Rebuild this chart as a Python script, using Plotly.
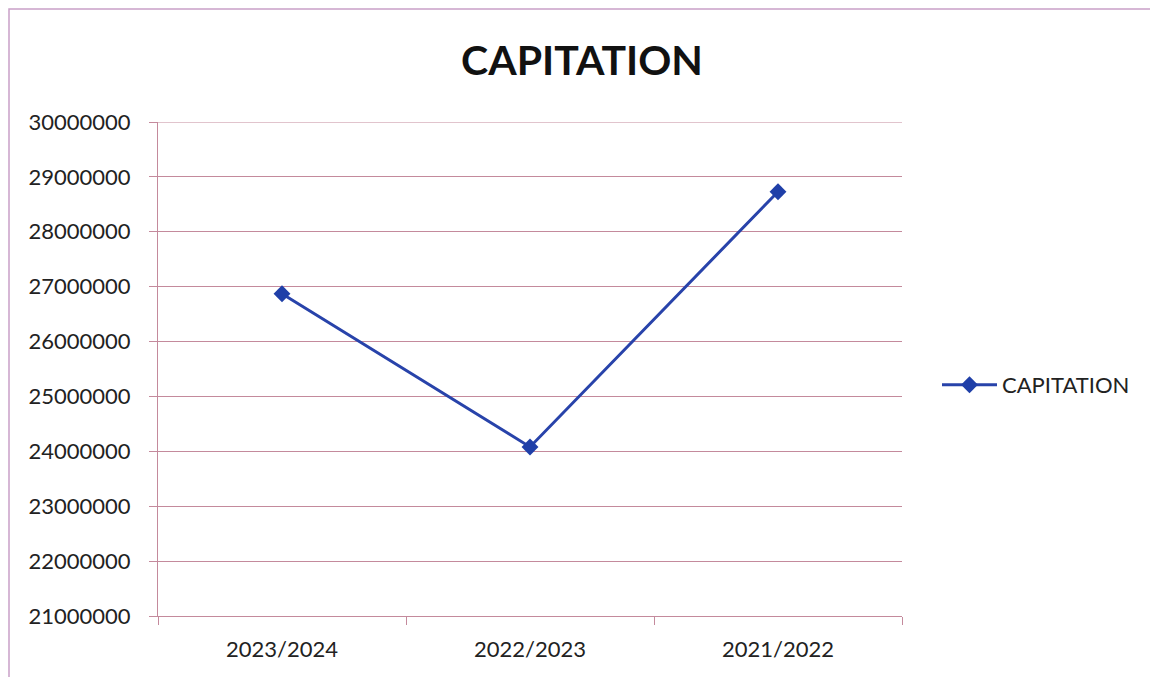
import plotly.graph_objects as go

# Capitation by financial year
years = ["2023/2024", "2022/2023", "2021/2022"]
capitation = [26870000, 24080000, 28730000]
y_ticks = [21000000, 22000000, 23000000, 24000000, 25000000,
           26000000, 27000000, 28000000, 29000000, 30000000]

W, H = 1150, 677
L, R, T, B = 158, 248, 122, 61
grid_col = "#c48a9c"
font_family = "Lato, 'Open Sans', sans-serif"

fig = go.Figure()
fig.add_trace(go.Scatter(
    x=years, y=capitation, name="CAPITATION", mode="lines+markers",
    line=dict(color="#2843aa", width=3),
    marker=dict(symbol="diamond", size=13, color="#1f3fa8"),
))

# outer chart frame (top and left edges visible)
pw, ph = W - L - R, H - T - B
fig.add_shape(type="rect", xref="paper", yref="paper",
              x0=(9 - L) / pw, x1=(W + 20 - L) / pw,
              y0=(H - B - (H + 20)) / ph, y1=(H - B - 9) / ph,
              line=dict(color="#c9a0c8", width=1.5), layer="below")

# top gridline at the upper end of the value axis
fig.add_shape(type="line", xref="paper", yref="y", x0=0, x1=1,
              y0=y_ticks[-1], y1=y_ticks[-1],
              line=dict(color=grid_col, width=1.2), layer="below")

fig.update_layout(
    width=W, height=H,
    margin=dict(l=L, r=R, t=T, b=B, autoexpand=False),
    paper_bgcolor="white", plot_bgcolor="white",
    font=dict(family=font_family, color="#222222", size=22),
    title=dict(text="<b>CAPITATION</b>", x=582 / W, xanchor="center",
               y=1 - 61 / H, yanchor="middle", xref="container", yref="container",
               font=dict(size=41, color="#111111", family=font_family)),
    showlegend=True,
    legend=dict(x=(937 - L) / pw, y=(H - B - 385) / ph, xanchor="left", yanchor="middle",
                itemwidth=55,
                font=dict(size=22, color="#222222"), bgcolor="rgba(0,0,0,0)"),
    xaxis=dict(type="category", range=[-0.5, 2.5], showgrid=False,
               showline=True, linecolor=grid_col, linewidth=1.2,
               ticks="outside", tickson="boundaries",
               ticklen=8, tickcolor=grid_col, tickwidth=1.2,
               ticklabelstandoff=13, zeroline=False, automargin=False),
    yaxis=dict(range=[21000000, 30000000], tickvals=y_ticks,
               ticktext=[str(v) for v in y_ticks],
               showgrid=True, gridcolor=grid_col, gridwidth=1.2,
               showline=True, linecolor=grid_col, linewidth=1.2,
               ticks="outside", ticklen=8, tickcolor=grid_col, tickwidth=1.2,
               ticklabelstandoff=14, zeroline=False, automargin=False),
)

fig.write_html("out.html")
